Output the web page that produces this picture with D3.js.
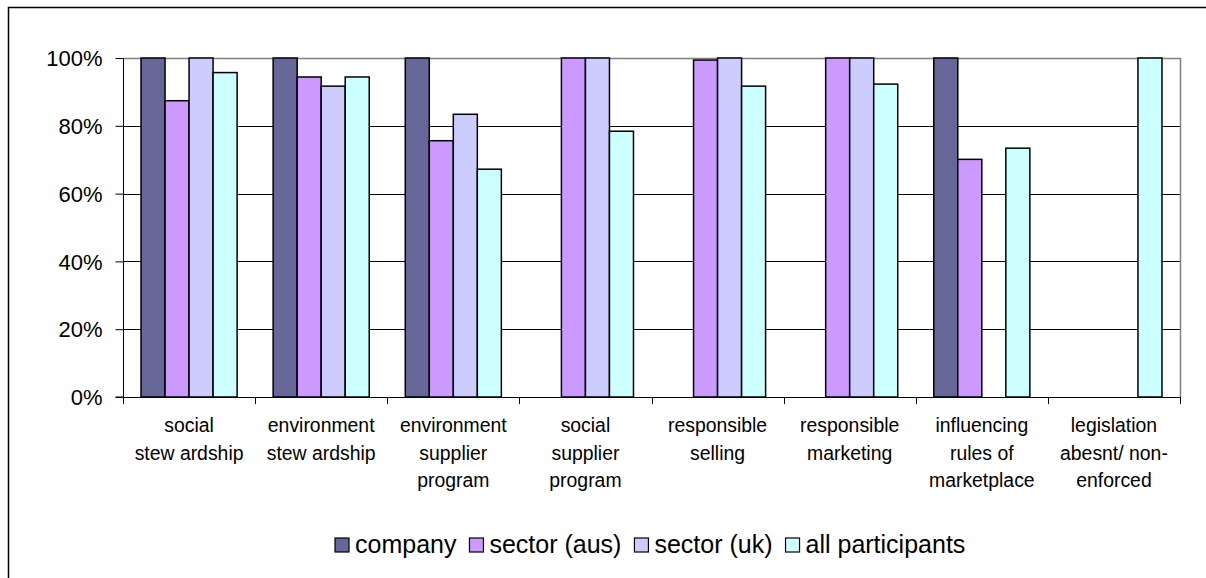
<!DOCTYPE html>
<html><head><meta charset="utf-8">
<script src="https://cdn.jsdelivr.net/npm/d3@7"></script>
<style>
body{margin:0;background:#fff}
svg{display:block}
text{font-family:"Liberation Sans",Arial,sans-serif;fill:#000}
</style>
</head><body><svg id="chart" width="1206" height="578"></svg>
<script>
// Category labels, one entry per line of each label
const categories = [
  ["social", "stew ardship"],
  ["environment", "stew ardship"],
  ["environment", "supplier", "program"],
  ["social", "supplier", "program"],
  ["responsible", "selling"],
  ["responsible", "marketing"],
  ["influencing", "rules of", "marketplace"],
  ["legislation", "abesnt/ non-", "enforced"]
];
const seriesNames = ["company", "sector (aus)", "sector (uk)", "all participants"];
// Percentages per category (null = no bar)
const company         = [100, 100, 100, null, null, null, 100, null];
const sectorAus       = [87.4, 94.4, 75.6, 100, 99.4, 100, 70.1, null];
const sectorUk        = [100, 91.7, 83.4, 100, 100, 100, null, null];
const allParticipants = [95.7, 94.4, 67.2, 78.4, 91.7, 92.3, 73.4, 100];
const yTicks = [0, 20, 40, 60, 80, 100];
const colors = ["#666699", "#CC99FF", "#CCCCFF", "#CCFFFF"];

const seriesValues = [company, sectorAus, sectorUk, allParticipants];

const svg = d3.select("#chart");
const plot = {left: 123, right: 1180, top: 58, bottom: 397};

// outer chart frame (runs past the right and bottom edge)
svg.append("rect")
  .attr("x", 8.5).attr("y", 7.5).attr("width", 1300).attr("height", 600)
  .attr("fill", "#fff").attr("stroke", "#000").attr("stroke-width", 1.5);

const catIdx = d3.range(categories.length);
const x = d3.scaleBand().domain(catIdx).range([plot.left, plot.right]).padding(0);
const xs = d3.scaleBand().domain(d3.range(seriesNames.length))
  .range([0, x.bandwidth()]).paddingInner(0).paddingOuter(0.75);
const y = d3.scaleLinear().domain([0, 100]).range([plot.bottom, plot.top]);

// gridlines
svg.append("g").selectAll("line").data(yTicks.filter(t => t > 0 && t < 100)).join("line")
  .attr("x1", plot.left).attr("x2", plot.right)
  .attr("y1", d => Math.round(y(d)) + 0.5).attr("y2", d => Math.round(y(d)) + 0.5)
  .attr("stroke", "#000").attr("stroke-width", 1);

// plot area border (top and right)
svg.append("path")
  .attr("d", `M${plot.left},${plot.top + 0.5}H${plot.right + 0.5}V${plot.bottom}`)
  .attr("fill", "none").attr("stroke", "#808080").attr("stroke-width", 1.5);

// bars
const flat = [];
seriesValues.forEach((vals, s) => vals.forEach((v, c) => { if (v != null) flat.push({s, c, v}); }));
svg.append("g").selectAll("rect").data(flat).join("rect")
  .attr("x", d => x(d.c) + xs(d.s))
  .attr("width", xs.bandwidth())
  .attr("y", d => y(d.v))
  .attr("height", d => y(0) - y(d.v))
  .attr("fill", d => colors[d.s])
  .attr("stroke", "#000").attr("stroke-width", 1.5);

// y axis
const yAxis = d3.axisLeft(y).tickValues(yTicks).tickFormat(d => d + "%").tickSize(8).tickPadding(13);
const gy = svg.append("g").attr("transform", `translate(${plot.left + 0.5},0)`).call(yAxis);
gy.select(".domain").attr("stroke", "#000").attr("d", `M-8,${plot.bottom}H0V${plot.top}`);
gy.selectAll(".tick line").attr("stroke", "#000");
gy.selectAll(".tick text").attr("font-size", 22).attr("font-family", "Liberation Sans, Arial, sans-serif").attr("dy", "0.35em");

// x axis line and boundary ticks
const xEdges = d3.range(categories.length + 1).map(i => plot.left + i * x.step());
svg.append("line").attr("x1", plot.left).attr("x2", plot.right + 1)
  .attr("y1", plot.bottom + 0.5).attr("y2", plot.bottom + 0.5).attr("stroke", "#000").attr("stroke-width", 1.2);
svg.append("g").selectAll("line").data(xEdges).join("line")
  .attr("x1", d => Math.round(d) + 0.5).attr("x2", d => Math.round(d) + 0.5)
  .attr("y1", plot.bottom).attr("y2", plot.bottom + 7)
  .attr("stroke", "#000");

// category labels
const lab = svg.append("g").selectAll("text").data(catIdx).join("text")
  .attr("text-anchor", "middle").attr("font-size", 19.4)
  .attr("x", d => x(d) + x.bandwidth() / 2).attr("y", 432);
lab.selectAll("tspan").data(d => categories[d]).join("tspan")
  .attr("x", function () { return this.parentNode.getAttribute("x"); })
  .attr("dy", (d, i) => i === 0 ? 0 : 27.5)
  .text(d => d);

// legend
const legend = svg.append("g");
const items = legend.selectAll("g").data(seriesNames).join("g");
items.append("rect").attr("y", -6).attr("width", 14).attr("height", 14)
  .attr("fill", (d, i) => colors[i]).attr("stroke", "#000").attr("stroke-width", 1.2);
items.append("text").attr("x", 20).attr("y", 8.5).attr("font-size", 25).text(d => d);
let off = 0;
items.each(function () {
  const w = this.querySelector("text").getComputedTextLength();
  this.setAttribute("transform", `translate(${off},544)`);
  off += 20 + w + 13;
});
const totalW = off - 13;
legend.attr("transform", `translate(${Math.round(650 - totalW / 2)},0)`);
</script>
</body></html>
